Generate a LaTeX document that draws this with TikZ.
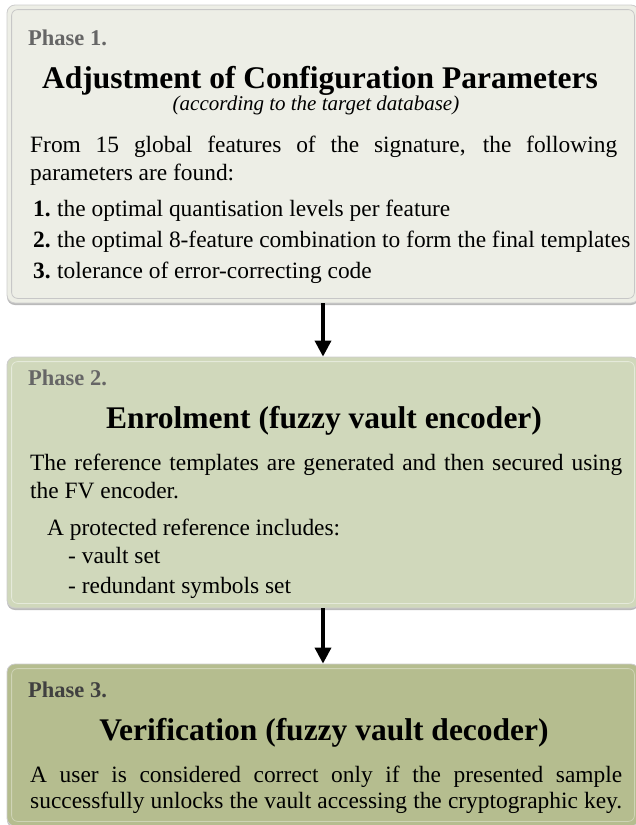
\documentclass[tikz,border=0pt]{standalone}
\usepackage{fontspec}
\setmainfont{Liberation Serif}
\usetikzlibrary{arrows.meta,shadows}
\definecolor{fillA}{RGB}{237,238,230}
\definecolor{fillB}{RGB}{208,216,187}
\definecolor{fillC}{RGB}{181,189,143}
\definecolor{phaseAB}{RGB}{102,102,102}
\definecolor{phaseC}{RGB}{64,64,64}
\begin{document}
\begin{tikzpicture}[x=1pt,y=1pt,
 panel/.style={rectangle, rounded corners=8pt, minimum width=632pt, inner sep=0pt, draw=black!20, line width=0.8pt,
   drop shadow={shadow xshift=0pt, shadow yshift=-2pt, opacity=0.6, fill=black!45}},
 rim/.style={rounded corners=6pt, line width=0.8pt},
 phase/.style={anchor=base west, inner sep=0pt, font=\fontsize{22.5}{27}\selectfont\bfseries},
 title/.style={anchor=base, inner sep=0pt, font=\fontsize{31.5}{38}\selectfont\bfseries},
 sub/.style={anchor=base, inner sep=0pt, font=\fontsize{21}{25}\selectfont\itshape},
 body/.style={anchor=base west, inner sep=0pt, font=\fontsize{23.4}{28}\selectfont},
 flow/.style={line width=3.5pt, -{Triangle[width=16pt,length=16pt]}}
]
\useasboundingbox (0,0) rectangle (636,-825);
% Phase 1
\node[panel, fill=fillA, minimum height=298pt] (b1) at (323,-154) {};
\draw[rim, draw=black!22] ([shift={(5,-5)}]b1.north west) rectangle ([shift={(-5,5)}]b1.south east);
\node[phase, text=phaseAB] (p1) at (28,-45) {Phase 1.};
\node[title] (t1) at (320,-88) {Adjustment of Configuration Parameters};
\node[sub] (s1) at (316,-110) {(according to the target database)};
\node[body] (d1a) at (30,-152) {\makebox[587pt][s]{From 15 global features of the signature, the following}};
\node[body] (d1b) at (30,-180) {parameters are found:};
\node[body] (i1) at (33,-216) {\makebox[24pt][l]{\textbf{1.}}the optimal quantisation levels per feature};
\node[body] (i2) at (33,-247) {\makebox[24pt][l]{\textbf{2.}}the optimal 8-feature combination to form the final templates};
\node[body] (i3) at (33,-278) {\makebox[24pt][l]{\textbf{3.}}tolerance of error-correcting code};
% Phase 2
\node[panel, fill=fillB, minimum height=251pt] (b2) at (323,-482.5) {};
\draw[rim, draw=white!45!fillB] ([shift={(5,-5)}]b2.north west) rectangle ([shift={(-5,5)}]b2.south east);
\node[phase, text=phaseAB] (p2) at (28,-385) {Phase 2.};
\node[title] (t2) at (324,-428) {Enrolment (fuzzy vault encoder)};
\node[body] (d2a) at (30,-470) {\makebox[592pt][s]{The reference templates are generated and then secured using}};
\node[body] (d2b) at (30,-498) {the FV encoder.};
\node[body] (d2c) at (47,-535) {A protected reference includes:};
\node[body] (d2d) at (68,-563) {- vault set};
\node[body] (d2e) at (68,-593) {- redundant symbols set};
% Phase 3
\node[panel, fill=fillC, minimum height=162pt] (b3) at (323,-745) {};
\draw[rim, draw=white!35!fillC] ([shift={(5,-5)}]b3.north west) rectangle ([shift={(-5,5)}]b3.south east);
\node[phase, text=phaseC] (p3) at (28,-697) {Phase 3.};
\node[title] (t3) at (324,-740) {Verification (fuzzy vault decoder)};
\node[body] (d3a) at (30,-782) {\makebox[592pt][s]{A user is considered correct only if the presented sample}};
\node[body] (d3b) at (30,-808) {\makebox[592pt][s]{successfully unlocks the vault accessing the cryptographic key.}};
% arrows
\draw[flow] (b1.south) -- (b2.north);
\draw[flow] (b2.south) -- (b3.north);
\end{tikzpicture}
\end{document}
